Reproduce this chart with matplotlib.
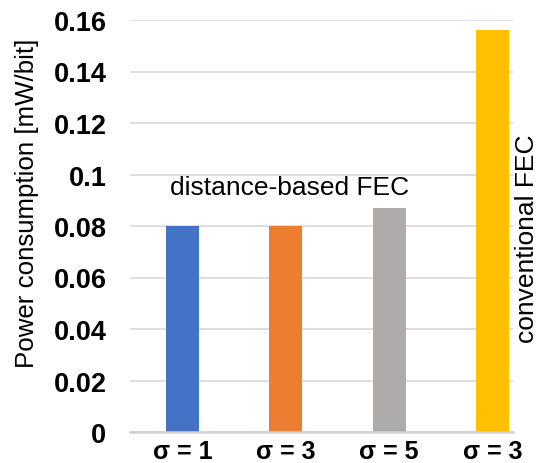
import matplotlib
matplotlib.use("Agg")
import matplotlib.pyplot as plt

plt.rcParams['font.family'] = ['Liberation Sans', 'DejaVu Sans']

categories = ["σ = 1", "σ = 3", "σ = 5", "σ = 3"]
values = [0.080, 0.080, 0.087, 0.156]
colors = ["#4472C4", "#ED7D31", "#AEABAB", "#FFC000"]
yticks = [0, 0.02, 0.04, 0.06, 0.08, 0.1, 0.12, 0.14, 0.16]
ytick_labels = ["0", "0.02", "0.04", "0.06", "0.08", "0.1", "0.12", "0.14", "0.16"]

fig = plt.figure(figsize=(5.42, 4.64), dpi=100)
ax = fig.add_axes([130/542, 1-433/464, 383/542, 412/464])

x = list(range(len(categories)))
ax.bar(x, values, width=0.32, color=colors, zorder=3)

ax.set_ylim(0, 0.16)
ax.set_xlim(-0.508, 3.2)
ax.set_yticks(yticks)
ax.set_yticklabels(ytick_labels, fontsize=19.5, fontweight='bold')
ax.set_xticks(x)
ax.set_xticklabels(categories, fontsize=18, fontweight='bold')
ax.tick_params(axis='y', length=0, pad=17)
ax.tick_params(axis='x', length=0, pad=5)

ax.grid(axis='y', color='#D9D9D9', linewidth=1.2, zorder=0)
for s in ['top', 'right', 'left']:
    ax.spines[s].set_visible(False)
ax.spines['bottom'].set_color('#D0D0D0')
ax.spines['bottom'].set_linewidth(1.8)
ax.spines['bottom'].set_zorder(4)

ax.set_ylabel("Power consumption [mW/bit]", fontsize=18.6)
ax.yaxis.set_label_coords(-0.238, 0.557)

ax.text(1.04, 0.0905, "distance-based FEC", fontsize=19, ha='center', va='bottom')
ax.text(3.335, 0.0755, "conventional FEC", fontsize=19, rotation=90, ha='center', va='center', clip_on=False)

fig.savefig("out.png", dpi=100)
